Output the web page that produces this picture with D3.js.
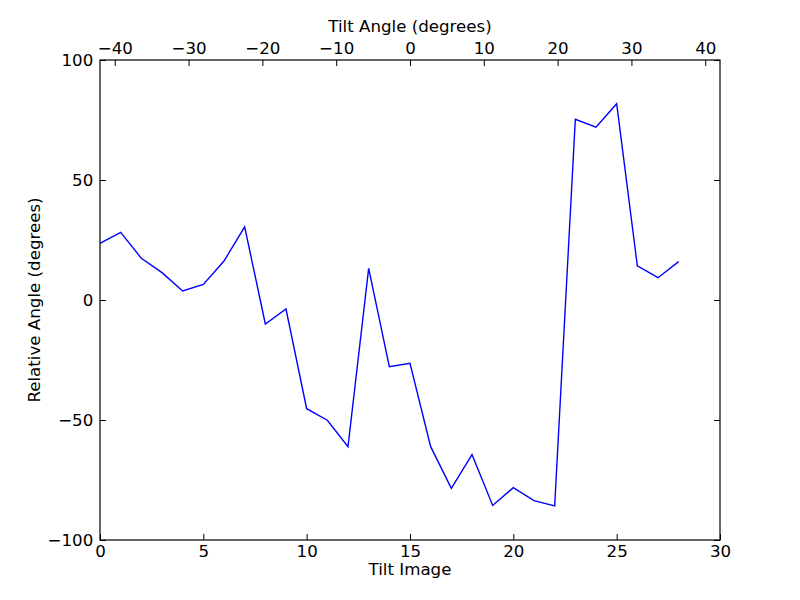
<!DOCTYPE html>
<html>
<head>
<meta charset="utf-8">
<script src="https://cdn.jsdelivr.net/npm/d3@7/dist/d3.min.js"></script>
<style>
  html, body { margin: 0; padding: 0; background: #fff; }
  svg { display: block; }
  text { font-family: "DejaVu Sans", sans-serif; fill: #000; }
</style>
</head>
<body>
<svg id="chart" width="800" height="600"></svg>
<script>
// Data
const tiltImage = d3.range(0, 29);
const relativeAngle = [23.6, 28.2, 17.4, 11.4, 3.75, 6.5, 16.25, 30.5, -10, -3.75,
  -45.3, -50.1, -61.1, 13.2, -27.8, -26.4, -61.1, -78.5, -64.4, -85.6,
  -78.2, -83.6, -85.8, 75.3, 72.0, 81.8, 14.2, 9.3, 16.0];
const bottomTicks = [0, 5, 10, 15, 20, 25, 30];
const leftTicks = [-100, -50, 0, 50, 100];
const topTicks = [-40, -30, -20, -10, 0, 10, 20, 30, 40];
const xLabel = "Tilt Image";
const yLabel = "Relative Angle (degrees)";
const topLabel = "Tilt Angle (degrees)";

const svg = d3.select("#chart");
const L = 100, R = 720, T = 60, B = 540;
const fs = 16.67;

const x = d3.scaleLinear().domain([0, 30]).range([L, R]);
const y = d3.scaleLinear().domain([-100, 100]).range([B, T]);
const xTop = d3.scaleLinear().domain([-42, 42]).range([L, R]);

function styleAxis(g) {
  g.select(".domain").remove();
  g.selectAll(".tick line").attr("stroke", "#000").attr("stroke-width", 1);
  g.selectAll(".tick text").style("font-size", fs + "px").attr("fill", "#000");
}

// bottom axis
svg.append("g").attr("transform", `translate(0,${B})`)
  .call(d3.axisBottom(x).tickValues(bottomTicks).tickSize(-6).tickPadding(5.2).tickFormat(d3.format("d")))
  .call(styleAxis);

// left axis
svg.append("g").attr("transform", `translate(${L},0)`)
  .call(d3.axisLeft(y).tickValues(leftTicks).tickSize(-6).tickPadding(6.7).tickFormat(d3.format("d")))
  .call(styleAxis);

// right ticks (no labels)
svg.append("g").attr("transform", `translate(${R},0)`)
  .call(d3.axisRight(y).tickValues(leftTicks).tickSize(-6).tickFormat(""))
  .call(styleAxis);

// top axis (tilt angle)
svg.append("g").attr("transform", `translate(0,${T})`)
  .call(d3.axisTop(xTop).tickValues(topTicks).tickSize(-6).tickPadding(6).tickFormat(d3.format("d")))
  .call(styleAxis);

// line
const line = d3.line().x((d, i) => x(tiltImage[i])).y(d => y(d));
svg.append("path").datum(relativeAngle)
  .attr("d", line)
  .attr("fill", "none")
  .attr("stroke", "#0000ff")
  .attr("stroke-width", 1.4)
  .attr("stroke-linejoin", "miter");

// frame
svg.append("rect")
  .attr("x", L).attr("y", T).attr("width", R - L).attr("height", B - T)
  .attr("fill", "none").attr("stroke", "#000").attr("stroke-width", 1.2);

// labels
svg.append("text").attr("x", (L + R) / 2).attr("y", 575)
  .attr("text-anchor", "middle").style("font-size", fs + "px").text(xLabel);
svg.append("text").attr("x", (L + R) / 2).attr("y", 32)
  .attr("text-anchor", "middle").style("font-size", fs + "px").text(topLabel);
svg.append("text").attr("transform", `translate(40,${(T + B) / 2}) rotate(-90)`)
  .attr("text-anchor", "middle").style("font-size", fs + "px").text(yLabel);
</script>
</body>
</html>
